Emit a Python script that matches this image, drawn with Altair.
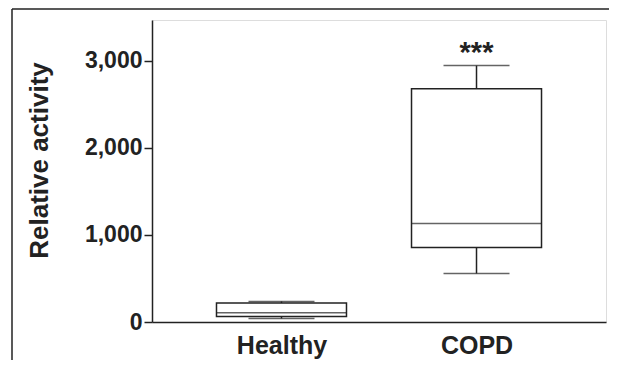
import altair as alt
import pandas as pd

groups = ["Healthy", "COPD"]
whisker_low = [41, 558]
q1 = [64, 856]
median = [107, 1132]
q3 = [218, 2679]
whisker_high = [236, 2946]
y_ticks = [0, 1000, 2000, 3000]
sig_label = ["", "***"]
sig_y = [None, 2990]

df = pd.DataFrame({
    "group": groups, "lo": whisker_low, "q1": q1, "med": median,
    "q3": q3, "hi": whisker_high,
})
sig = pd.DataFrame({"group": groups[1:], "label": sig_label[1:], "y": sig_y[1:]})

INK = "#222222"
FONT = "Liberation Sans"

x = alt.X("group:N", sort=groups, title=None,
          scale=alt.Scale(type="point", padding=0.664, align=0.5),
          axis=alt.Axis(labelAngle=0, labelFont=FONT, labelFontSize=25,
                        labelFontWeight="bold", labelColor=INK, ticks=False,
                        domain=True, domainColor=INK, domainWidth=1.5,
                        labelPadding=11))
yscale = alt.Scale(domain=[0, 3470], nice=False, zero=True)
yaxis = alt.Axis(values=y_ticks, format=",d", title="Relative activity",
                 titleFont=FONT, titleFontSize=26, titleFontWeight="bold",
                 titleColor=INK, titleX=-100, titleY=140, titleAngle=270,
                 titleBaseline="bottom", titleAlign="center",
                 labelFont=FONT, labelFontSize=23, labelFontWeight="bold",
                 labelColor=INK, labelPadding=2, tickSize=8, tickColor=INK,
                 tickWidth=1.5, domainColor=INK, domainWidth=1.5, grid=False)

base = alt.Chart(df)

whisk_top = base.mark_rule(color=INK, strokeWidth=1.5).encode(
    x=x, y=alt.Y("q3:Q", scale=yscale, axis=yaxis), y2="hi:Q")
whisk_bot = base.mark_rule(color=INK, strokeWidth=1.5).encode(
    x=x, y=alt.Y("lo:Q", scale=yscale), y2="q1:Q")
box = base.mark_bar(size=130, fill="white", stroke=INK, strokeWidth=1.5).encode(
    x=x, y=alt.Y("q1:Q", scale=yscale), y2="q3:Q")
med = base.mark_tick(size=130, thickness=1.5, color=INK, orient="horizontal").encode(
    x=x, y=alt.Y("med:Q", scale=yscale))
cap_hi = base.mark_tick(size=66, thickness=1.5, color=INK, orient="horizontal").encode(
    x=x, y=alt.Y("hi:Q", scale=yscale))
cap_lo = base.mark_tick(size=66, thickness=1.5, color=INK, orient="horizontal").encode(
    x=x, y=alt.Y("lo:Q", scale=yscale))
stars = alt.Chart(sig).mark_text(font=FONT, fontSize=29, fontWeight="bold",
                                 color=INK, baseline="alphabetic").encode(
    x=x, y=alt.Y("y:Q", scale=yscale), text="label:N")

frame_df = pd.DataFrame({"k": [0]})
outer_top = alt.Chart(frame_df).mark_rule(color=INK, strokeWidth=1.5).encode(
    x=alt.value(-140), x2=alt.value(470), y=alt.value(-11), y2=alt.value(-11))
outer_left = alt.Chart(frame_df).mark_rule(color=INK, strokeWidth=1.5).encode(
    x=alt.value(-140), x2=alt.value(-140), y=alt.value(-11), y2=alt.value(350))

chart = alt.layer(whisk_top, whisk_bot, box, med, cap_hi, cap_lo, stars,
                  outer_top, outer_left).properties(
    width=454, height=302,
    autosize=alt.AutoSizeParams(type="none"),
    padding={"left": 144, "top": 12, "right": 3, "bottom": 38},
).configure_view(stroke=INK, strokeWidth=1.5).configure(background="white")

chart.save("out.html", embed_options={"renderer": "svg", "actions": False})
